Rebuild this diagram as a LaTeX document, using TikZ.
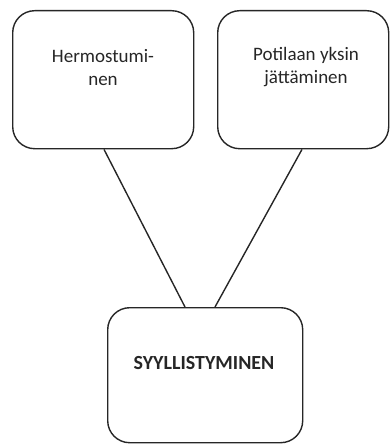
\documentclass[tikz,border=0pt]{standalone}
\usepackage{fontspec}
\setmainfont{Carlito}
\usetikzlibrary{calc}
\begin{document}
\begin{tikzpicture}[x=1pt,y=-1pt,
  boxstyle/.style={draw=black!85,line width=1.4pt,rounded corners=22pt,inner sep=0pt,anchor=north west},
  labelstyle/.style={font=\fontsize{19}{23}\selectfont,align=center,text=black!85,inner sep=0pt},
  linkstyle/.style={draw=black!85,line width=1.4pt}]
\useasboundingbox (0,0) rectangle (390,444);
\node[boxstyle,minimum width=181pt,minimum height=138pt] (a) at (12,10) {};
\node[boxstyle,minimum width=171pt,minimum height=138pt] (b) at (217,10) {};
\node[boxstyle,minimum width=195pt,minimum height=135pt] (c) at (107,307) {};
\node[labelstyle] (ta) at (103,68) {Hermostumi-\\nen};
\node[labelstyle] (tb) at (306,67) {Potilaan yksin\\jättäminen};
\node[labelstyle,font=\fontsize{20}{24}\selectfont\bfseries] (tc) at (204,363) {SYYLLISTYMINEN};
\coordinate (a1) at ($(a.south west)+(92,0)$);
\coordinate (b1) at ($(b.south west)+(85,0)$);
\coordinate (c1) at ($(c.north west)+(78,0)$);
\coordinate (c2) at ($(c.north west)+(108,0)$);
\draw[linkstyle] (a1) -- (c1);
\draw[linkstyle] (b1) -- (c2);
\end{tikzpicture}
\end{document}
